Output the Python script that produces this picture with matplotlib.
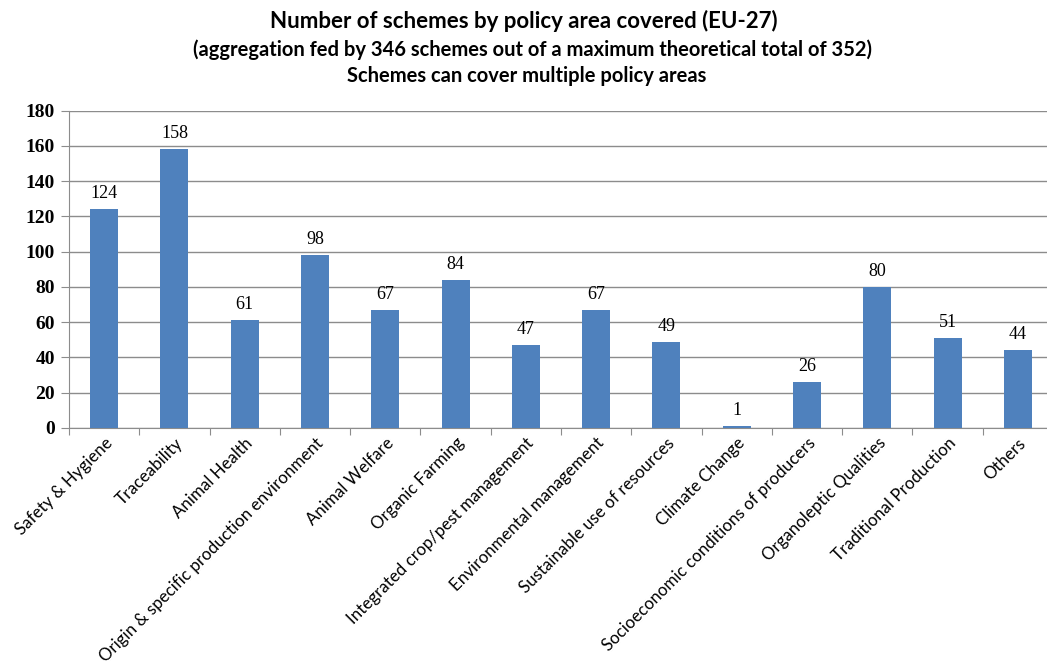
import matplotlib
matplotlib.use("Agg")
import matplotlib.pyplot as plt
import numpy as np

# policy areas and number of schemes covering each
areas = [
    "Safety & Hygiene",
    "Traceability",
    "Animal Health",
    "Origin & specific production environment",
    "Animal Welfare",
    "Organic Farming",
    "Integrated crop/pest management",
    "Environmental management",
    "Sustainable use of resources",
    "Climate Change",
    "Socioeconomic conditions of producers",
    "Organoleptic Qualities",
    "Traditional Production",
    "Others",
]
schemes = [124, 158, 61, 98, 67, 84, 47, 67, 49, 1, 26, 80, 51, 44]
y_ticks = [0, 20, 40, 60, 80, 100, 120, 140, 160, 180]

bar_color = "#4F81BD"
grid_color = "#8C8C8C"
sans = ["Lato", "DejaVu Sans"]
serif = ["Liberation Serif", "DejaVu Serif"]

fig = plt.figure(figsize=(10.47, 6.72), dpi=100)
# plot area runs a little past the right edge of the figure
ax = fig.add_axes([69 / 1047, 1 - 428 / 672, (1053 - 69) / 1047, (428 - 110.7) / 672])

x = np.arange(len(areas))
ax.bar(x, schemes, width=0.4, color=bar_color, zorder=3)

for xi, v in zip(x, schemes):
    ax.text(xi, v + 4, str(v), ha="center", va="bottom",
            family=serif, fontsize=13, color="black")

ax.set_xlim(-0.5, len(areas) - 0.5)
ax.set_ylim(0, 180)
ax.set_yticks(y_ticks)
ax.set_yticklabels([str(t) for t in y_ticks], family=serif,
                   fontweight="bold", fontsize=14)
ax.yaxis.grid(True, color=grid_color, linewidth=1, zorder=0)

# category ticks sit between bars, labels under bar centres
ax.set_xticks(np.arange(len(areas) + 1) - 0.5)
ax.set_xticklabels([])
ax.set_xticks(x, minor=True)
ax.set_xticklabels(areas, minor=True, rotation=45, ha="right",
                   rotation_mode="anchor", family=sans, fontsize=12.2)
ax.tick_params(axis="x", which="minor", length=0, pad=5)
ax.tick_params(axis="x", which="major", length=5, color=grid_color, direction="out")
ax.tick_params(axis="y", length=6, color=grid_color, direction="out", pad=4)

for side in ["top", "right"]:
    ax.spines[side].set_visible(False)
ax.spines["left"].set_color(grid_color)
ax.spines["bottom"].set_color(grid_color)

fig.text(0.5, 1 - 21 / 672, "Number of schemes by policy area covered (EU-27)",
         ha="center", va="center", family=sans, fontsize=16, fontweight="bold")
fig.text(533 / 1047, 1 - 50 / 672,
         "(aggregation fed by 346 schemes out of a maximum theoretical total of 352)",
         ha="center", va="center", family=sans, fontsize=14.5, fontweight="bold")
fig.text(527 / 1047, 1 - 76 / 672, "Schemes can cover multiple policy areas",
         ha="center", va="center", family=sans, fontsize=14.5, fontweight="bold")

fig.savefig("out.png", dpi=100)
